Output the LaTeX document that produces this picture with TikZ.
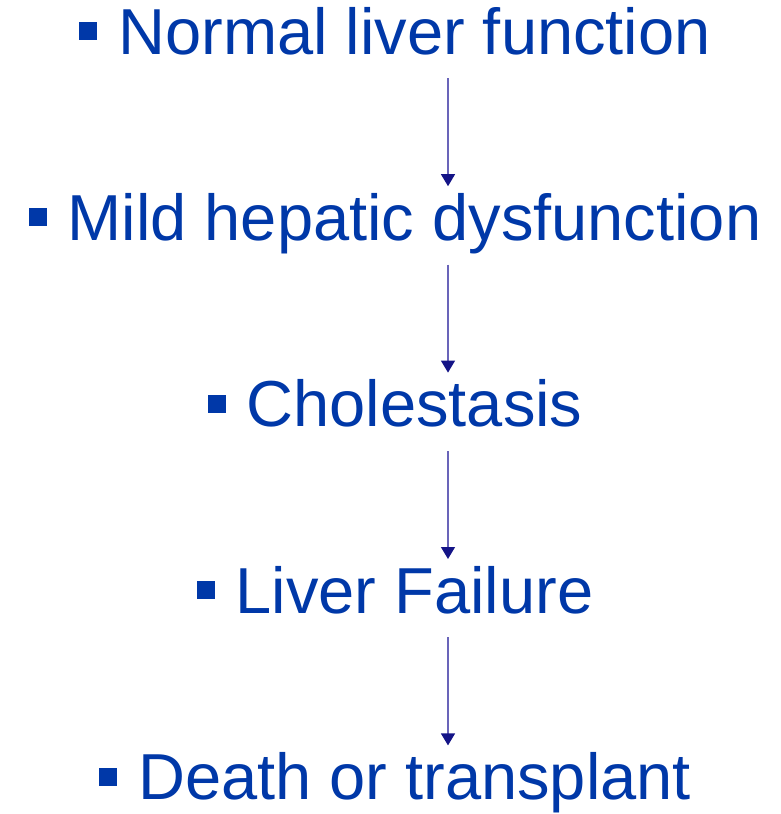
\documentclass[tikz,border=0pt]{standalone}
\usepackage{fontspec}
\setmainfont{Liberation Sans}
\usepackage{xcolor}
\usetikzlibrary{arrows.meta, positioning}

\definecolor{stageblue}{RGB}{0,56,168}
\definecolor{arrowline}{RGB}{105,100,185}
\definecolor{arrowhead}{RGB}{20,20,135}
\newcommand{\sqbullet}{\rule[14pt]{18pt}{18pt}\hspace{21pt}}

\begin{document}
\begin{tikzpicture}[
    node distance=108pt,
    stage/.style={text=stageblue, font=\fontsize{65pt}{70pt}\selectfont,
        inner sep=0pt, text height=54pt, text depth=24pt},
    flow/.style={-{Triangle[length=12pt, width=14pt, color=arrowhead]},
        draw=arrowline, line width=1.3pt},
]
\useasboundingbox (0,0) rectangle (781pt,-814pt);

\node[stage, anchor=base] (normal) at (395pt,-54pt)
    {\sqbullet Normal liver function};
\node[stage, below=of normal] (mild) {\sqbullet Mild hepatic dysfunction};
\node[stage, below=of mild] (chol) {\sqbullet Cholestasis};
\node[stage, below=of chol] (failure) {\sqbullet Liver Failure};
\node[stage, below=of failure] (death) {\sqbullet Death or transplant};

% progression
\draw[flow] ([xshift=53pt]normal.south) -- ([xshift=53pt]mild.north);
\draw[flow] ([xshift=53pt]mild.south) -- ([xshift=53pt]chol.north);
\draw[flow] ([xshift=53pt]chol.south) -- ([xshift=53pt]failure.north);
\draw[flow] ([xshift=53pt]failure.south) -- ([xshift=53pt]death.north);

\end{tikzpicture}
\end{document}
